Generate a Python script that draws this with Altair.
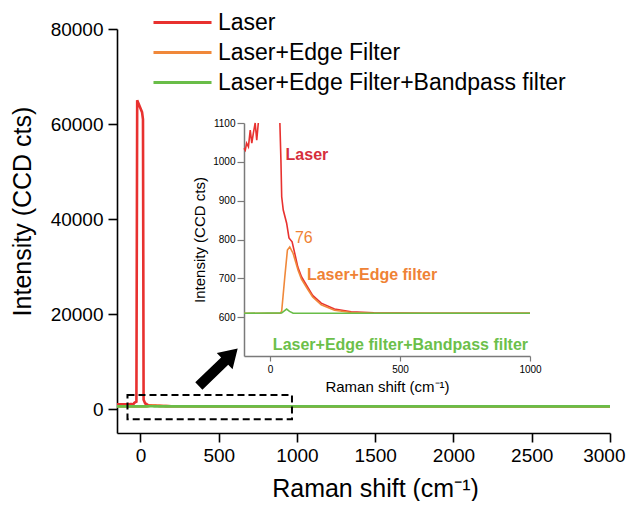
import altair as alt
import pandas as pd

series_names = ["Laser", "Laser+Edge Filter", "Laser+Edge Filter+Bandpass filter"]
series_colors = ["#e8312f", "#f0883a", "#69bd48"]

laser_x = [-150, -100, -95, -90, -83, -76, -70, -64, -57, -51, -45, -40, -32, -26, -21, 10, 16, 20, 30,
           38, 42, 45, 51, 64, 73, 85, 95, 107, 121, 145, 164, 197, 248, 312, 400, 600, 1000, 2000, 3000]
laser_y = [1040, 1035, 1030, 1048, 1039, 1082, 1048, 1074, 1100, 1056, 1100, 1300, 1500, 1600, 65000, 62500, 61000, 2000, 1200,
           1100, 1005, 910, 876, 842, 804, 794, 765, 729, 704, 677, 656, 636, 621, 614, 611, 610, 610, 610, 610]

edge_x = [-150, -100, 40, 45, 57, 67, 76, 89, 108, 121, 145, 164, 197, 248, 312, 400, 1000, 3000]
edge_y = [610, 610, 610, 616, 704, 773, 781, 764, 721, 698, 672, 652, 632, 618, 612, 610, 610, 610]

band_x = [-150, -100, 45, 55, 64, 75, 89, 1000, 3000]
band_y = [610, 610, 611, 616, 621, 615, 610, 610, 610]

main_x_ticks = [0, 500, 1000, 1500, 2000, 2500, 3000]
main_y_ticks = [0, 20000, 40000, 60000, 80000]
inset_x_ticks = [0, 500, 1000]
inset_y_ticks = [600, 700, 800, 900, 1000, 1100]

box_x, box_x2, box_y, box_y2 = [-83], [968], [3000], [-2100]
arrow_x, arrow_y = [497], [8830]

label_text = ["Laser", "Laser+Edge filter", "Laser+Edge filter+Bandpass filter"]
label_x = [60, 142, 11]
label_y = [1017, 708, 528]
label_color = ["#d62f3c", "#ef8235", "#6cbf4a"]
peak_text, peak_x, peak_y = ["76"], [96], [804]

rows = []
for name, xs, ys in zip(series_names, [laser_x, edge_x, band_x], [laser_y, edge_y, band_y]):
    for i, (a, b) in enumerate(zip(xs, ys)):
        rows.append({"series": name, "x": a, "y": b, "idx": i})
df = pd.DataFrame(rows)

box_df = pd.DataFrame({"x": box_x, "x2": box_x2, "y": box_y, "y2": box_y2})
arrow_df = pd.DataFrame({"x": arrow_x, "y": arrow_y})
labels_df = pd.DataFrame({"text": label_text, "x": label_x, "y": label_y, "color": label_color})
peak_df = pd.DataFrame({"text": peak_text, "x": peak_x, "y": peak_y})

FONT = "Liberation Sans"

color_scale = alt.Scale(domain=series_names, range=series_colors)

main_x = alt.X("x:Q", scale=alt.Scale(domain=[-150, 3000], nice=False, zero=False),
               axis=alt.Axis(values=main_x_ticks, format="d", title="Raman shift (cm⁻¹)",
                             labelFontSize=19, titleFontSize=25, titleFontWeight="normal",
                             tickSize=9, labelPadding=4, titlePadding=11, titleX=258,
                             labelFlush=True, labelFlushOffset=15,
                             domainColor="black", tickColor="black", labelColor="black",
                             titleColor="black", domainWidth=1.6, tickWidth=1.6, grid=False))
main_y = alt.Y("y:Q", scale=alt.Scale(domain=[-5000, 80000], nice=False, zero=False),
               axis=alt.Axis(values=main_y_ticks, format="d", title="Intensity (CCD cts)",
                             labelFontSize=19, titleFontSize=25, titleFontWeight="normal",
                             tickSize=9, labelPadding=5, titleX=-82, titleY=182,
                             domainColor="black", tickColor="black", labelColor="black",
                             titleColor="black", domainWidth=1.6, tickWidth=1.6, grid=False))

legend = alt.Legend(orient="none", legendX=54, legendY=-18, title=None,
                    symbolType="M-3,0L3,0", symbolSize=374, symbolStrokeWidth=3,
                    labelFontSize=23, labelFont=FONT, labelColor="black", labelOffset=24,
                    labelLimit=600, rowPadding=6)

main_lines = alt.Chart(df).mark_line(strokeWidth=2.6).encode(
    x=main_x, y=main_y,
    color=alt.Color("series:N", scale=color_scale, legend=legend, sort=series_names),
    order="idx:Q",
)

box = alt.Chart(box_df).mark_rect(fillOpacity=0, stroke="black", strokeWidth=2, strokeDash=[7, 4]).encode(
    x="x:Q", x2="x2:Q", y="y:Q", y2="y2:Q")

arrow_path = "M-1,-0.19L0.33,-0.19L0.33,-0.42L1,0L0.33,0.42L0.33,0.19L-1,0.19Z"
arrow = alt.Chart(arrow_df).mark_point(shape=arrow_path, size=2916, angle=316, filled=True,
                                       color="black", opacity=1, strokeWidth=0).encode(
    x="x:Q", y="y:Q")

main = alt.layer(main_lines, box, arrow)

inset_x = alt.X("x:Q", scale=alt.Scale(domain=[-100, 1000], range=[127, 413], nice=False, zero=False),
                axis=alt.Axis(orient="bottom", offset=-77, values=inset_x_ticks, format="d",
                              title="Raman shift (cm⁻¹)", labelFontSize=10, titleFontSize=15,
                              titleFontWeight="normal", tickSize=5, labelPadding=3, titlePadding=5,
                              labelFlush=False,
                              domainColor="#7a7a7a", tickColor="#7a7a7a", labelColor="black",
                              titleColor="black", domainWidth=1.5, tickWidth=1.2, grid=False))
inset_y = alt.Y("y:Q", scale=alt.Scale(domain=[500, 1100], range=[327, 94], nice=False, zero=False),
                axis=alt.Axis(orient="left", offset=-127, values=inset_y_ticks, format="d",
                              title="Intensity (CCD cts)", labelFontSize=10, titleFontSize=15,
                              titleFontWeight="normal", tickSize=7, labelPadding=2, titlePadding=5,
                              domainColor="#7a7a7a", tickColor="#7a7a7a", labelColor="black",
                              titleColor="black", domainWidth=1.5, tickWidth=1.2, grid=False))

inset_lines = alt.Chart(df).transform_filter(
    "datum.x >= -100 && datum.x <= 1000 && datum.y <= 1100"
).transform_calculate(
    seg="datum.series == 'Laser' && datum.x < 0 ? 'a' : 'b'"
).mark_line(strokeWidth=1.6).encode(
    x=inset_x, y=inset_y,
    color=alt.Color("series:N", scale=color_scale, legend=None),
    detail="seg:N",
    order="idx:Q",
)

inset_labels = alt.Chart(labels_df).mark_text(align="left", baseline="middle", fontSize=16,
                                              fontWeight="bold", font=FONT).encode(
    x=alt.X("x:Q"), y=alt.Y("y:Q"), text="text:N", color=alt.Color("color:N", scale=None))

inset_peak = alt.Chart(peak_df).mark_text(align="left", baseline="middle", fontSize=16,
                                          font=FONT, color="#ef8235").encode(
    x=alt.X("x:Q"), y=alt.Y("y:Q"), text="text:N")

inset = alt.layer(inset_lines, inset_labels, inset_peak)

chart = alt.layer(main, inset).resolve_scale(
    x="independent", y="independent", color="independent"
).properties(
    width=493, height=404, autosize="none",
    padding={"left": 109, "top": 21, "right": 17, "bottom": 68},
).configure_view(strokeWidth=0).configure_axis(
    labelFont=FONT, titleFont=FONT
).configure_text(font=FONT)

chart.save("out.html", embed_options={"renderer": "svg", "actions": False})
